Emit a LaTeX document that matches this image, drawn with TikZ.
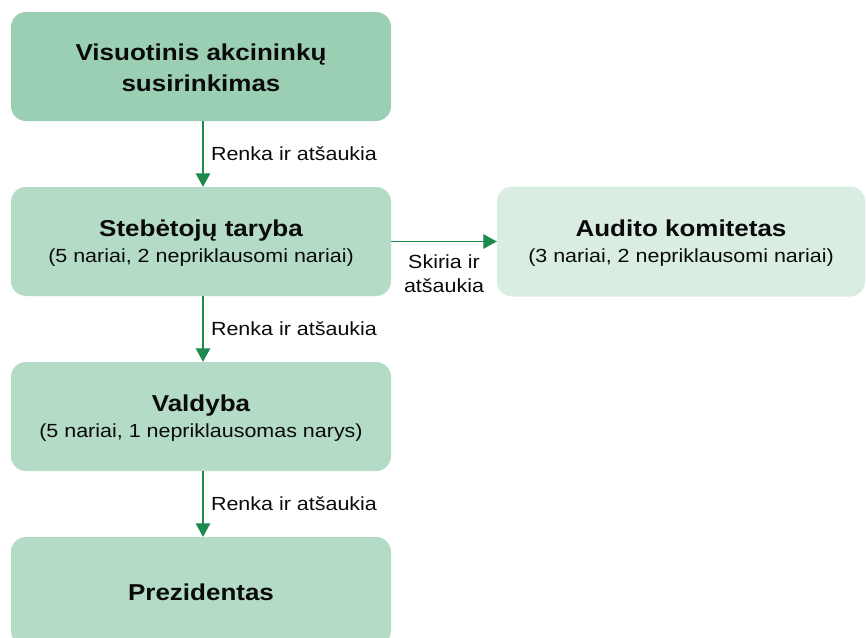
\documentclass[tikz,border=0pt]{standalone}
\usepackage{fontspec}
\setmainfont[FakeStretch=1.13]{Liberation Sans}
\usetikzlibrary{arrows.meta}
\definecolor{boxdark}{RGB}{155,207,180}
\definecolor{boxmid}{RGB}{179,219,198}
\definecolor{boxlight}{RGB}{217,237,226}
\definecolor{arrgreen}{RGB}{27,138,76}
\definecolor{txt}{RGB}{10,10,10}
\tikzset{
  orgbox/.style={rectangle, rounded corners=15pt, draw=none, inner sep=0pt,
    minimum width=380pt, minimum height=109pt, align=center, text=txt,
    font=\fontsize{19}{26}\selectfont, text height=42pt, text depth=0pt},
  conn/.style={draw=arrgreen, line width=1.1pt, -{Triangle[width=14.5pt,length=13.5pt]}},
  connlabel/.style={inner sep=0pt, text=txt, font=\fontsize{19}{24}\selectfont}
}
\newcommand{\ttl}[1]{{\bfseries\fontsize{23}{26}\selectfont #1}}
\begin{document}
\begin{tikzpicture}[x=1pt,y=-1pt]
\useasboundingbox (0,0) rectangle (866,637);
\node[orgbox, fill=boxdark, font=\fontsize{23}{31}\selectfont\bfseries, text height=50.4pt] (gm) at (201,66.5)
  {Visuotinis akcininkų\\susirinkimas};
\node[orgbox, fill=boxmid] (sb) at (201,241.5)
  {\ttl{Stebėtojų taryba}\\(5 nariai, 2 nepriklausomi nariai)};
\node[orgbox, fill=boxlight, minimum width=368pt, minimum height=110pt] (ak) at (681,241.5)
  {\ttl{Audito komitetas}\\(3 nariai, 2 nepriklausomi nariai)};
\node[orgbox, fill=boxmid] (vb) at (201,416.5)
  {\ttl{Valdyba}\\(5 nariai, 1 nepriklausomas narys)};
\node[orgbox, fill=boxmid, text height=17pt, text depth=0pt] (pr) at (201,591.5)
  {\ttl{Prezidentas}};
\draw[conn] ([xshift=2pt]gm.south) -- node[connlabel, anchor=west, xshift=7.5pt] (l1) {Renka ir atšaukia} ([xshift=2pt]sb.north);
\draw[conn] ([xshift=2pt]sb.south) -- node[connlabel, anchor=west, xshift=7.5pt] (l2) {Renka ir atšaukia} ([xshift=2pt]vb.north);
\draw[conn] ([xshift=2pt]vb.south) -- node[connlabel, anchor=west, xshift=7.5pt] (l3) {Renka ir atšaukia} ([xshift=2pt]pr.north);
\draw[conn] (sb.east) -- node[connlabel, anchor=north, align=center, yshift=-13pt] (l4) {Skiria ir\\atšaukia} (ak.west);
\end{tikzpicture}
\end{document}
